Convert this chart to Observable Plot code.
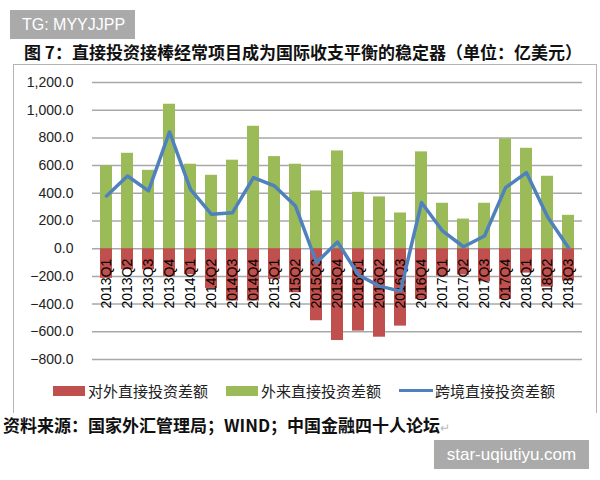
<!DOCTYPE html>
<html>
<head>
<meta charset="utf-8">
<script src="https://cdn.jsdelivr.net/npm/d3@7"></script>
<script src="https://cdn.jsdelivr.net/npm/@observablehq/plot@0.6"></script>
<style>
  body { margin:0; width:600px; height:480px; position:relative; background:#fff; overflow:hidden; font-family:"Noto Sans CJK SC", "Liberation Sans", sans-serif; }
  .abs { position:absolute; }
  #wm1 { left:10px; top:10px; width:125px; height:29px; background:#aaaaaa; color:#fff; font:16px "Liberation Sans", Arial, sans-serif; line-height:29px; padding-left:12px; box-sizing:border-box; }
  #title { left:24px; top:40px; font-weight:bold; font-size:17px; line-height:24px; white-space:nowrap; color:#111; }
  #box { left:13px; top:64px; width:584px; height:349px; border:1.5px solid #b4b4b4; border-bottom:none; box-sizing:border-box; }
  #chart { left:0; top:65px; }
  #legend { left:53px; top:380px; font-size:15px; color:#222; white-space:nowrap; display:flex; align-items:center; }
  .item { display:flex; align-items:center; margin-right:18px; }
  .sw { width:32px; height:10px; margin-right:3px; }
  .ln { width:34px; height:3px; margin-right:2px; }
  #source { left:3px; top:413px; font-weight:bold; font-size:17px; line-height:24px; white-space:nowrap; color:#111; }
  #source span { color:#bbb; font-weight:normal; font-size:12px; }
  #wm2 { left:434px; top:440px; width:155px; height:29px; background:#aaaaaa; color:#fff; font:17px "Liberation Sans", Arial, sans-serif; line-height:29px; text-align:center; }
</style>
</head>
<body>
<div id="wm1" class="abs">TG: MYYJJPP</div>
<div id="title" class="abs">图 7：直接投资接棒经常项目成为国际收支平衡的稳定器（单位：亿美元）</div>
<div id="box" class="abs"></div>
<div id="chart" class="abs"></div>
<div id="legend" class="abs"></div>
<div id="source" class="abs">资料来源：国家外汇管理局；WIND；中国金融四十人论坛<span>↵</span></div>
<div id="wm2" class="abs">star-uqiutiyu.com</div>
<script>
const quarters = ["2013Q1","2013Q2","2013Q3","2013Q4","2014Q1","2014Q2","2014Q3","2014Q4",
  "2015Q1","2015Q2","2015Q3","2015Q4","2016Q1","2016Q2","2016Q3","2016Q4",
  "2017Q1","2017Q2","2017Q3","2017Q4","2018Q1","2018Q2","2018Q3"];
// 对外直接投资差额
const outward = [-214,-152,-152,-200,-188,-287,-378,-378,-222,-318,-520,-663,-595,-639,-559,-366,-198,-190,-239,-366,-176,-277,-234];
// 外来直接投资差额
const inward = [598,689,566,1043,610,530,639,884,665,610,417,706,407,374,258,699,328,214,328,793,725,523,241];
// 跨境直接投资差额
const net = [381,525,417,843,429,248,260,513,453,308,-100,48,-190,-270,-306,333,128,14,92,441,549,230,7];
const yTicks = [-800,-600,-400,-200,0,200,400,600,800,1000,1200];
const seriesNames = ["对外直接投资差额","外来直接投资差额","跨境直接投资差额"];
const seriesColors = ["#C0504D","#9BBB59","#4F81BD"];

const rows = quarters.map((q, i) => ({q, out: outward[i], inn: inward[i], net: net[i]}));

const chart = Plot.plot({
  width: 600,
  height: 310,
  marginTop: 17,
  marginBottom: 16,
  marginLeft: 92,
  marginRight: 18,
  style: {fontFamily: "'Liberation Sans', Arial, sans-serif", fontSize: "14px", color: "#222", background: "transparent"},
  x: {domain: quarters, paddingInner: 0.44, paddingOuter: 0.22, axis: null},
  y: {domain: [-800, 1200], ticks: yTicks, tickFormat: d3.format(",.1f"), tickSize: 0, tickPadding: 19, label: null},
  marks: [
    Plot.ruleY(yTicks, {stroke: "#a8a8a8", strokeWidth: 1.5}),
    Plot.barY(rows, {x: "q", y1: 0, y2: "inn", fill: seriesColors[1]}),
    Plot.barY(rows, {x: "q", y1: 0, y2: "out", fill: seriesColors[0]}),
    Plot.text(rows, {x: "q", y: 0, text: "q", rotate: -90, textAnchor: "end", dy: 10, fontSize: 14, fill: "#000"}),
    Plot.lineY(rows, {x: "q", y: "net", stroke: seriesColors[2], strokeWidth: 3.5})
  ]
});
document.getElementById("chart").appendChild(chart);

const legend = document.getElementById("legend");
seriesNames.forEach((name, i) => {
  const item = document.createElement("div");
  item.className = "item";
  const sw = document.createElement("div");
  sw.className = i === 2 ? "ln" : "sw";
  sw.style.background = seriesColors[i];
  const t = document.createElement("span");
  t.textContent = name;
  item.appendChild(sw);
  item.appendChild(t);
  legend.appendChild(item);
});
</script>
</body>
</html>
